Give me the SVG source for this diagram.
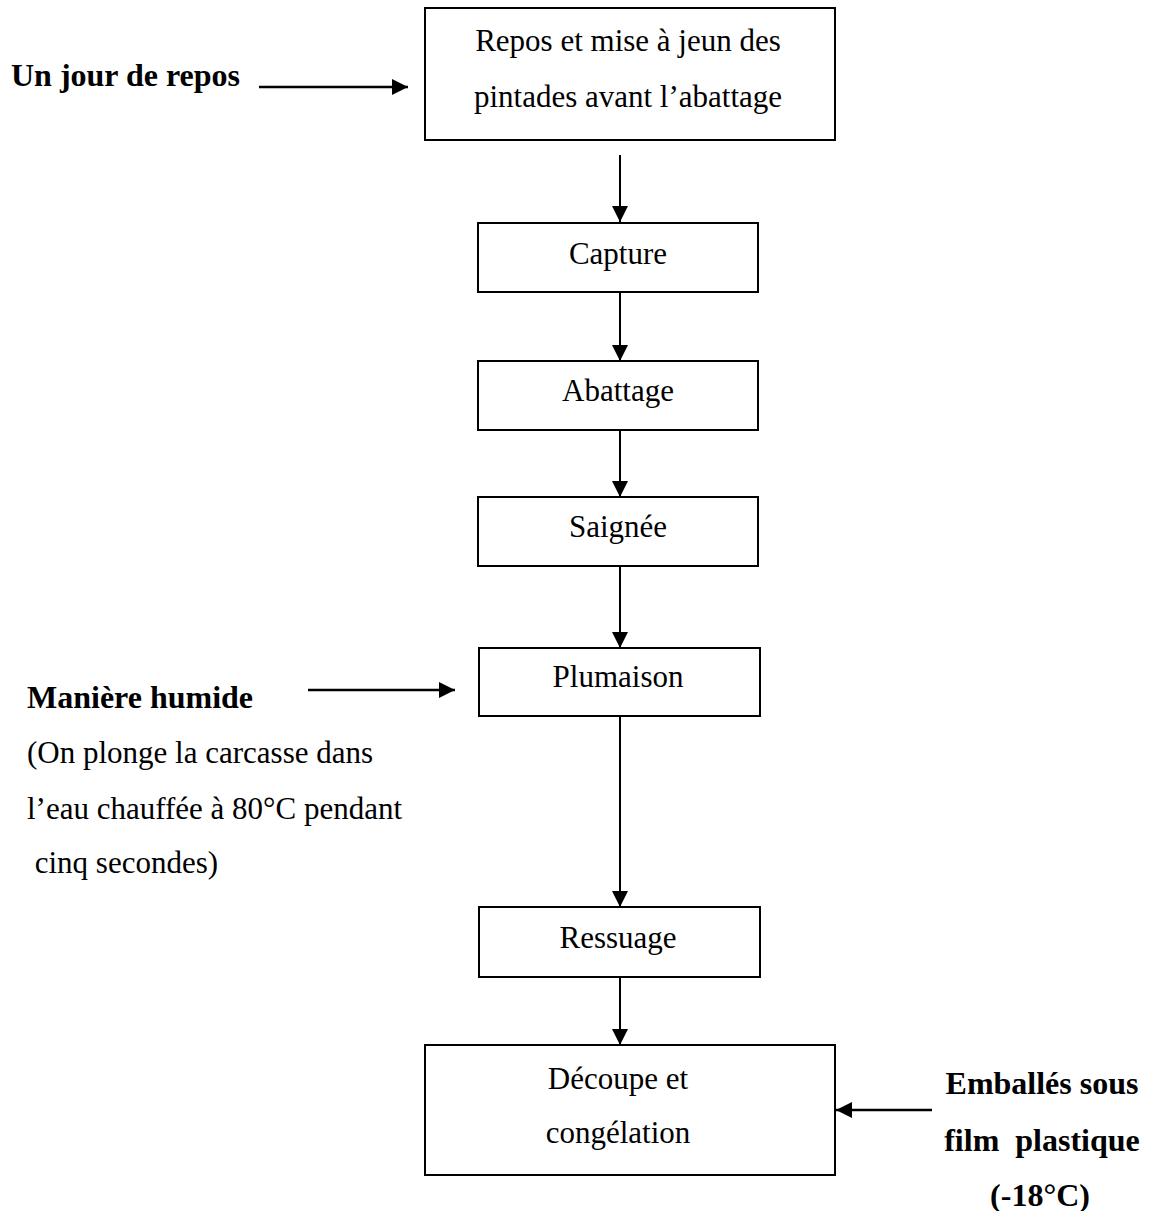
<svg xmlns="http://www.w3.org/2000/svg" width="1152" height="1211" viewBox="0 0 1152 1211">
<defs>
<style>
text{font-family:"Liberation Serif","Times New Roman",serif;font-size:31px;fill:#000}
.c{text-anchor:middle}
.b{font-weight:bold;font-size:32px}
.box{fill:#fff;stroke:#000;stroke-width:2}
.ln{stroke:#000;stroke-width:2;fill:none;marker-end:url(#ah)}
.h{stroke-width:2.6}
</style>
<marker id="ah" viewBox="0 0 16 16" refX="16" refY="8" markerWidth="16" markerHeight="16" markerUnits="userSpaceOnUse" orient="auto">
<path d="M0,0 L16,8 L0,16 Z" fill="#000"/>
</marker>
</defs>
<rect width="1152" height="1211" fill="#fff"/>
<g id="connectors">
<line class="ln" x1="620" y1="155" x2="620" y2="222"/>
<line class="ln" x1="620" y1="292" x2="620" y2="361"/>
<line class="ln" x1="620" y1="430" x2="620" y2="497"/>
<line class="ln" x1="620" y1="566" x2="620" y2="648"/>
<line class="ln" x1="620" y1="716" x2="620" y2="907"/>
<line class="ln" x1="620" y1="977" x2="620" y2="1045"/>
<line class="ln h" x1="259" y1="87" x2="408" y2="87"/>
<line class="ln h" x1="308" y1="690" x2="455" y2="690"/>
<line class="ln h" x1="932" y1="1110" x2="836" y2="1110"/>
</g>
<g id="n1"><rect class="box" x="425" y="8" width="410" height="132"/>
<text class="c" x="628" y="51">Repos et mise à jeun des</text>
<text class="c" x="628" y="107">pintades avant l’abattage</text></g>
<g id="n2"><rect class="box" x="478" y="223" width="280" height="69"/><text class="c" x="618" y="264">Capture</text></g>
<g id="n3"><rect class="box" x="478" y="361" width="280" height="69"/><text class="c" x="618" y="401">Abattage</text></g>
<g id="n4"><rect class="box" x="478" y="497" width="280" height="69"/><text class="c" x="618" y="537">Saignée</text></g>
<g id="n5"><rect class="box" x="479" y="648" width="281" height="68"/><text class="c" x="618" y="687">Plumaison</text></g>
<g id="n6"><rect class="box" x="479" y="907" width="281" height="70"/><text class="c" x="618" y="948">Ressuage</text></g>
<g id="n7"><rect class="box" x="425" y="1045" width="410" height="130"/>
<text class="c" x="618" y="1089">Découpe et</text>
<text class="c" x="618" y="1143">congélation</text></g>
<g id="lbl1"><text class="b" x="11" y="86">Un jour de repos</text></g>
<g id="lbl2"><text class="b" x="27" y="708">Manière humide</text>
<text x="27" y="763">(On plonge la carcasse dans</text>
<text x="27" y="819">l’eau chauffée à 80°C pendant</text>
<text x="27" y="873" xml:space="preserve"> cinq secondes)</text></g>
<g id="lbl3"><text class="b c" x="1042" y="1094">Emballés sous</text>
<text class="b c" x="1042" y="1151" xml:space="preserve">film  plastique</text>
<text class="b c" x="1040" y="1206">(-18°C)</text></g>
</svg>
